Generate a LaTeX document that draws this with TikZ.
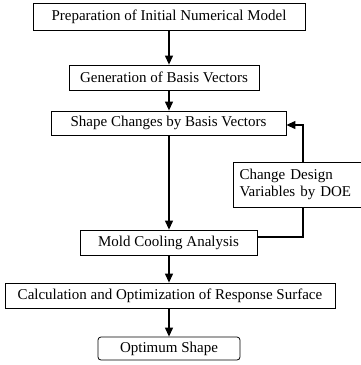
\documentclass[tikz,border=0pt]{standalone}
\usepackage{fontspec}
\setmainfont{Liberation Serif}
\usetikzlibrary{arrows.meta}
\begin{document}
\begin{tikzpicture}[x=1pt,y=1pt,
  box/.style={draw,line width=0.8pt,inner sep=0pt,font=\fontsize{15}{17}\selectfont},
  arr/.style={line width=1.1pt,-{Stealth[length=9pt,width=8pt,inset=0pt]}},
  ln/.style={line width=1.1pt}]
\useasboundingbox (0,0) rectangle (361,-365);
\node[box,minimum width=272pt,minimum height=27pt] (prep) at (169,-16.5) {Preparation of Initial Numerical Model};
\node[box,minimum width=190pt,minimum height=25pt] (gen) at (164,-77.5) {Generation of Basis Vectors};
\node[box,minimum width=235pt,minimum height=24pt] (shape) at (168.5,-123) {Shape Changes by Basis Vectors};
\node[box,minimum width=129pt,minimum height=45pt,align=left,text width=117pt] (doe) at (298,-184.5) {Change Design\\Variables by DOE};
\node[box,minimum width=177pt,minimum height=25pt] (mold) at (168.5,-242.5) {Mold Cooling Analysis};
\node[box,minimum width=330pt,minimum height=25pt] (calc) at (170,-295.5) {Calculation and Optimization of Response Surface};
\node[box,rounded corners=3pt,minimum width=142pt,minimum height=23pt] (opt) at (169,-348.5) {Optimum Shape};
\coordinate (ax) at (169,0);
\coordinate (rx) at (303,0);
\coordinate (y1) at (0,-125);
\coordinate (y2) at (0,-237);
\draw[arr] (prep.south -| ax) -- (gen.north -| ax);
\draw[arr] (gen.south -| ax) -- (shape.north -| ax);
\draw[arr] (shape.south -| ax) -- (mold.north -| ax);
\draw[arr] (mold.south -| ax) -- (calc.north -| ax);
\draw[arr] (calc.south -| ax) -- (opt.north -| ax);
\draw[ln] (mold.east |- y2) -| (doe.south -| rx);
\draw[arr] (doe.north -| rx) |- (shape.east |- y1);
\end{tikzpicture}
\end{document}
